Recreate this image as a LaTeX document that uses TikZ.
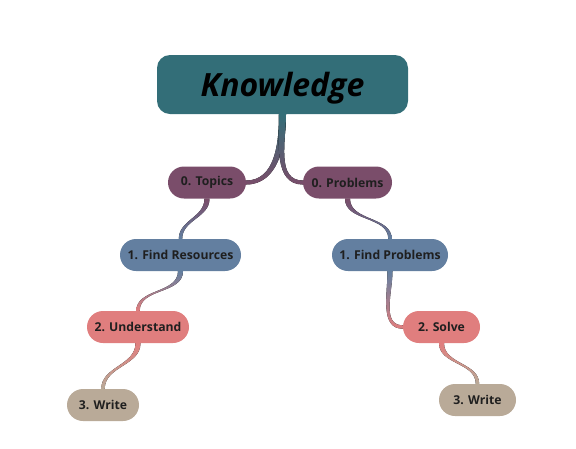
\documentclass[tikz,border=0pt]{standalone}
\usepackage{fontspec}
\setmainfont{Open Sans}
\usetikzlibrary{backgrounds}

\definecolor{rootteal}{HTML}{336E78}
\definecolor{plum}{HTML}{7A4D6A}
\definecolor{slateblue}{HTML}{637FA0}
\definecolor{salmon}{HTML}{E07E7E}
\definecolor{sand}{HTML}{B9AA98}

\begin{document}
\begin{tikzpicture}[x=1pt,y=1pt]
  \tikzstyle{root}=[fill=rootteal, rounded corners=13pt, minimum width=251pt, minimum height=59pt,
    text depth=0pt, font=\bfseries\itshape\fontsize{32}{36}\selectfont, text=black]
  \tikzstyle{topic}=[rounded corners=16pt, minimum height=32pt, inner xsep=7pt,
    font=\bfseries\fontsize{12.2}{14}\selectfont, text=black!88]

  \useasboundingbox (0,0) rectangle (576,-448);

  \node[root] (know) at (282.5,-84.5) {Knowledge};

  \node[topic, fill=plum, minimum width=78pt] (topics) at (207,-182.5) {0. Topics};
  \node[topic, fill=plum, minimum width=89pt] (problems) at (347.5,-182.5) {0. Problems};
  \node[topic, fill=slateblue, minimum width=121pt] (findres) at (180.5,-255) {1. Find Resources};
  \node[topic, fill=slateblue, minimum width=116pt] (findprob) at (390,-255) {1. Find Problems};
  \node[topic, fill=salmon, minimum width=102pt] (understand) at (138,-327) {2. Understand};
  \node[topic, fill=salmon, minimum width=77pt] (solve) at (441.5,-327) {2. Solve};
  \node[topic, fill=sand, minimum width=72pt] (writeleft) at (103,-405) {3. Write};
  \node[topic, fill=sand, minimum width=77pt] (writeright) at (477.5,-400) {3. Write};

  \begin{scope}[on background layer]
    % root to first level
    \fill[top color=rootteal, bottom color=plum] ([xshift=-3.5pt]know.south) to[out=-90,in=0] ([yshift=2pt]topics.east)
      -- ([yshift=-2pt]topics.east) to[out=0,in=-90] ([xshift=3.5pt]know.south) -- cycle;
    \fill[top color=rootteal, bottom color=plum] ([xshift=3.5pt]know.south) to[out=-90,in=180] ([yshift=2pt]problems.west)
      -- ([yshift=-2pt]problems.west) to[out=180,in=-90] ([xshift=-3.5pt]know.south) -- cycle;

    % left chain
    \fill[top color=plum, bottom color=slateblue] ([xshift=-2.5pt]topics.south) to[out=-90,in=90] ([xshift=-1.7pt]findres.north)
      -- ([xshift=1.7pt]findres.north) to[out=90,in=-90] ([xshift=2.5pt]topics.south) -- cycle;
    \fill[top color=slateblue, bottom color=salmon] ([xshift=-2.5pt]findres.south) to[out=-90,in=90] ([xshift=-1.7pt]understand.north)
      -- ([xshift=1.7pt]understand.north) to[out=90,in=-90] ([xshift=2.5pt]findres.south) -- cycle;
    \fill[top color=salmon, bottom color=sand] ([xshift=-2.5pt]understand.south) to[out=-90,in=90] ([xshift=-1.7pt]writeleft.north)
      -- ([xshift=1.7pt]writeleft.north) to[out=90,in=-90] ([xshift=2.5pt]understand.south) -- cycle;

    % right chain
    \fill[top color=plum, bottom color=slateblue] ([xshift=-2.5pt]problems.south) to[out=-90,in=90] ([xshift=-1.7pt]findprob.north)
      -- ([xshift=1.7pt]findprob.north) to[out=90,in=-90] ([xshift=2.5pt]problems.south) -- cycle;
    \fill[top color=slateblue, bottom color=salmon] ([xshift=-2.5pt]findprob.south) to[out=-90,in=180] ([yshift=-1.7pt]solve.west)
      -- ([yshift=1.7pt]solve.west) to[out=180,in=-90] ([xshift=2.5pt]findprob.south) -- cycle;
    \fill[top color=salmon, bottom color=sand] ([xshift=-2.5pt]solve.south) to[out=-90,in=90] ([xshift=-1.7pt]writeright.north)
      -- ([xshift=1.7pt]writeright.north) to[out=90,in=-90] ([xshift=2.5pt]solve.south) -- cycle;
  \end{scope}
\end{tikzpicture}
\end{document}
